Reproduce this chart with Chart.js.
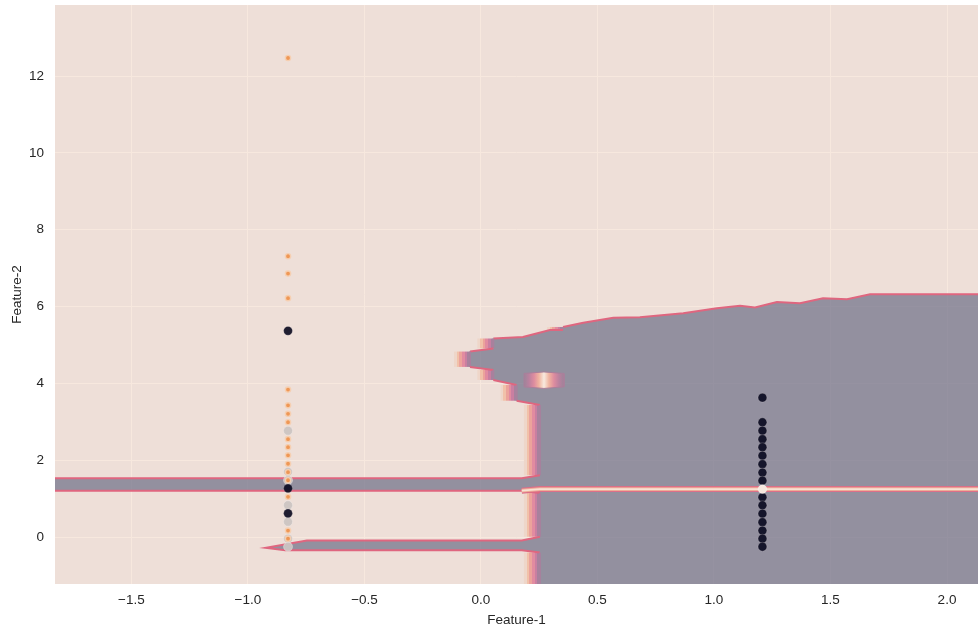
<!DOCTYPE html>
<html>
<head>
<meta charset="utf-8">
<script src="https://cdn.jsdelivr.net/npm/chart.js@4.4.1/dist/chart.umd.min.js"></script>
<style>
  html, body { margin: 0; padding: 0; background: #ffffff; }
  #wrap { width: 978px; height: 628px; }
</style>
</head>
<body>
<div id="wrap"><canvas id="chart" width="978" height="628"></canvas></div>
<script>
// ---- axis extents and ticks ----
const xRange = [-1.828, 2.133];
const yRange = [-1.22, 13.85];
const xTickValues = [-1.5, -1.0, -0.5, 0.0, 0.5, 1.0, 1.5, 2.0];
const yTickValues = [0, 2, 4, 6, 8, 10, 12];

// ---- decision regions (Feature-1, Feature-2 vertices) ----
// area predicted as the dark class
const darkRegion = [
  [2.30, 6.32], [1.670, 6.32], [1.571, 6.19], [1.468, 6.22], [1.369, 6.09],
  [1.270, 6.12], [1.176, 5.98], [1.112, 6.02], [1.012, 5.96], [0.868, 5.83],
  [0.682, 5.72], [0.568, 5.71], [0.439, 5.58], [0.352, 5.47], [0.352, 5.39],
  [0.296, 5.39], [0.180, 5.21], [0.053, 5.17], [0.053, 4.91], [-0.047, 4.83],
  [-0.047, 4.43], [0.053, 4.35], [0.053, 4.09], [0.153, 3.96], [0.153, 3.55],
  [0.253, 3.44], [0.253, 1.61], [0.175, 1.53], [-1.95, 1.53], [-1.95, 1.21],
  [0.175, 1.21], [0.253, 1.15], [0.253, 0.01], [0.175, -0.09], [-0.747, -0.09],
  [-0.923, -0.28], [-0.840, -0.34], [0.175, -0.34], [0.253, -0.40], [0.253, -1.40],
  [2.30, -1.40], [2.30, 6.32]
];
// thin light gap running through the dark area
const lightGap = [[0.175, 1.21], [0.253, 1.25], [2.30, 1.25]];
// small light pocket inside the dark area
const lightPocket = [
  [0.185, 4.26], [0.270, 4.30], [0.356, 4.26], [0.356, 3.91], [0.270, 3.87], [0.185, 3.91], [0.185, 4.26]
];

// ---- samples ----
const columnX = [-0.828, 1.208];
const darkLeftY = [5.37, 1.27, 0.62];
const darkRightY = [3.63, 2.99, 2.77, 2.55, 2.34, 2.12, 1.90, 1.68, 1.47,
                    1.04, 0.83, 0.61, 0.39, 0.17, -0.04, -0.25];
const greyLeftY = [2.77, 1.70, 1.48, 0.83, 0.40, -0.04, -0.25];
const orangeLeftY = [12.47, 7.31, 6.86, 6.22, 3.84, 3.43, 3.21, 2.99, 2.55,
                     2.34, 2.13, 1.91, 1.69, 1.48, 1.05, 0.17, -0.04];
const paleRightY = [1.25];

// ---- palette ----
const edgeBands = ['#eed6c9', '#f1c1a9', '#eca39b', '#e28ba0', '#c97fa1', '#a8819d'];
const pocketStops = ['#9d8499', '#bb819f', '#de8c9f', '#f0b4a0', '#f8eadf',
                     '#f0b4a0', '#de8c9f', '#bb819f', '#9d8499'];

const FONT = '"Liberation Sans", Arial, "DejaVu Sans", sans-serif';
const TEXT = '#262626';

const pairs = arr => arr.map(([x, y]) => ({ x, y }));
const column = (x, ys) => ys.map(y => ({ x, y }));
const fmtTick = (v, d) => {
  const s = Number(v).toFixed(d);
  return s.startsWith('-') ? '\u2212' + s.slice(1) : s;
};

// backdrop, light class wash and the soft colour steps along vertical region edges
const regionBackdrop = {
  id: 'regionBackdrop',
  beforeDraw(chart) {
    const { ctx, chartArea: a } = chart;
    ctx.save();
    ctx.fillStyle = '#eaeaf2';
    ctx.fillRect(a.left, a.top, a.right - a.left, a.bottom - a.top);
    ctx.restore();
  },
  beforeDatasetsDraw(chart) {
    const { ctx, chartArea: a } = chart;
    ctx.save();
    ctx.beginPath();
    ctx.rect(a.left, a.top, a.right - a.left, a.bottom - a.top);
    ctx.clip();
    ctx.fillStyle = 'rgba(240,214,195,0.55)';
    ctx.fillRect(a.left, a.top, a.right - a.left, a.bottom - a.top);

    const idx = chart.data.datasets.findIndex(d => d.label === 'dark region');
    const pts = chart.getDatasetMeta(idx).data;
    const path = new Path2D();
    pts.forEach((p, i) => (i ? path.lineTo(p.x, p.y) : path.moveTo(p.x, p.y)));
    path.closePath();
    const w = 16;
    for (let i = 0; i < pts.length - 1; i++) {
      const p = pts[i], q = pts[i + 1];
      if (Math.abs(p.x - q.x) > 0.5) continue;
      const y0 = Math.min(p.y, q.y), y1 = Math.max(p.y, q.y);
      if (ctx.isPointInPath(path, p.x - 3, (y0 + y1) / 2)) continue;
      const g = ctx.createLinearGradient(p.x - w, 0, p.x, 0);
      const n = edgeBands.length;
      edgeBands.forEach((c, k) => { g.addColorStop(k / n, c); g.addColorStop((k + 1) / n, c); });
      ctx.fillStyle = g;
      ctx.fillRect(p.x - w, y0, w, y1 - y0);
    }
    ctx.restore();
  }
};

const pocketFill = c => {
  const chart = c.chart;
  const xs = chart.scales && chart.scales.x;
  if (!xs || !chart.chartArea) return '#e0a0a0';
  const px = lightPocket.map(p => p[0]);
  const x0 = xs.getPixelForValue(Math.min(...px));
  const x1 = xs.getPixelForValue(Math.max(...px));
  const g = chart.ctx.createLinearGradient(x0, 0, x1, 0);
  pocketStops.forEach((col, k) => g.addColorStop(k / (pocketStops.length - 1), col));
  return g;
};

const polyBase = { type: 'scatter', showLine: true, pointRadius: 0, pointHoverRadius: 0, tension: 0, clip: 0 };

new Chart(document.getElementById('chart'), {
  type: 'scatter',
  data: {
    datasets: [
      { label: 'pale sample', data: column(columnX[1], paleRightY), pointRadius: 4.3,
        backgroundColor: '#f6e7de', borderColor: 'rgba(255,255,255,0.6)', borderWidth: 0.6 },
      { label: 'dark class', data: column(columnX[0], darkLeftY).concat(column(columnX[1], darkRightY)),
        pointRadius: 4.4, backgroundColor: 'rgba(8,8,30,0.9)', borderColor: 'rgba(235,225,225,0.35)', borderWidth: 0.6 },
      { label: 'orange class', data: column(columnX[0], orangeLeftY), pointRadius: 2.6,
        backgroundColor: 'rgba(238,146,78,0.95)', borderColor: 'rgba(246,208,178,0.95)', borderWidth: 1.4 },
      { label: 'grey class', data: column(columnX[0], greyLeftY), pointRadius: 4.5,
        backgroundColor: 'rgba(203,196,194,0.95)', borderColor: 'rgba(250,245,242,0.6)', borderWidth: 0.6 },
      Object.assign({}, polyBase, { label: 'gap core', data: pairs(lightGap), borderColor: '#f8e2d4', borderWidth: 1.6, fill: false }),
      Object.assign({}, polyBase, { label: 'gap mid', data: pairs(lightGap), borderColor: '#efad98', borderWidth: 3.6, fill: false }),
      Object.assign({}, polyBase, { label: 'gap edge', data: pairs(lightGap), borderColor: '#dc6f88', borderWidth: 6, fill: false }),
      Object.assign({}, polyBase, { label: 'light pocket', data: pairs(lightPocket), fill: 'shape',
        backgroundColor: pocketFill, borderColor: '#ab7f9b', borderWidth: 1 }),
      Object.assign({}, polyBase, { label: 'dark outline', data: pairs(darkRegion), fill: false,
        borderColor: '#df667f', borderWidth: 2,
        segment: { borderColor: s => (Math.abs(s.p0.x - s.p1.x) < 0.5 ? '#a8819d' : undefined) } }),
      Object.assign({}, polyBase, { label: 'dark region', data: pairs(darkRegion), fill: 'shape',
        backgroundColor: 'rgba(108,109,135,0.7)', borderWidth: 0, borderColor: 'rgba(0,0,0,0)' })
    ]
  },
  options: {
    responsive: false,
    animation: false,
    events: [],
    layout: { autoPadding: false, padding: { top: 5, right: 0, bottom: 0, left: 0 } },
    plugins: { legend: { display: false }, tooltip: { enabled: false } },
    scales: {
      x: {
        type: 'linear', min: xRange[0], max: xRange[1],
        afterBuildTicks: s => { s.ticks = xTickValues.map(v => ({ value: v })); },
        afterFit: s => { s.height = 44; s.paddingLeft = 0; s.paddingRight = 0; },
        grid: { color: '#ffffff', lineWidth: 1, drawTicks: false },
        border: { display: false },
        ticks: { padding: 8, color: TEXT, autoSkip: false, maxRotation: 0,
                 font: { family: FONT, size: 13.5 }, callback: v => fmtTick(v, 1) },
        title: { display: true, text: 'Feature-1', color: TEXT,
                 font: { family: FONT, size: 13.5 }, padding: { top: 0, bottom: 0 } }
      },
      y: {
        type: 'linear', min: yRange[0], max: yRange[1],
        afterBuildTicks: s => { s.ticks = yTickValues.map(v => ({ value: v })); },
        afterFit: s => { s.width = 55; s.paddingTop = 0; s.paddingBottom = 0; },
        grid: { color: '#ffffff', lineWidth: 1, drawTicks: false },
        border: { display: false },
        ticks: { padding: 11, color: TEXT, autoSkip: false,
                 font: { family: FONT, size: 13.5 }, callback: v => fmtTick(v, 0) },
        title: { display: true, text: 'Feature-2', color: TEXT,
                 font: { family: FONT, size: 13.5 }, padding: { top: 9, bottom: 0 } }
      }
    }
  },
  plugins: [regionBackdrop]
});
</script>
</body>
</html>
